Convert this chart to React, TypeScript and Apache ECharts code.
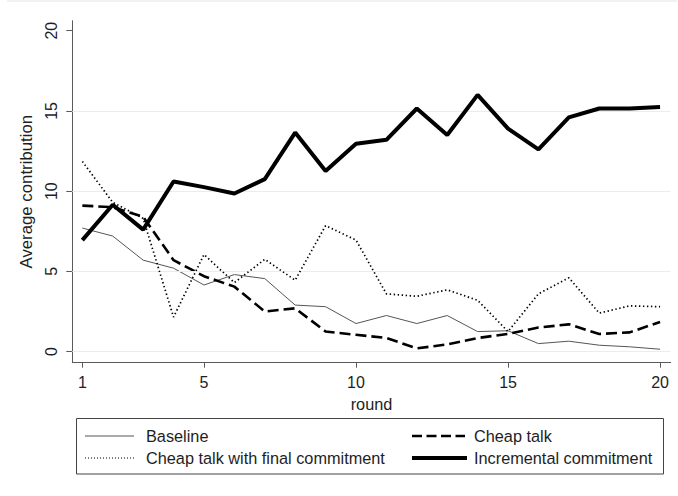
import React, { useEffect, useRef } from "react";
import * as echarts from "echarts";

const rounds = [1, 2, 3, 4, 5, 6, 7, 8, 9, 10, 11, 12, 13, 14, 15, 16, 17, 18, 19, 20];
const baseline = [7.7, 7.2, 5.7, 5.2, 4.15, 4.8, 4.55, 2.9, 2.8, 1.75, 2.25, 1.75, 2.25, 1.25, 1.3, 0.5, 0.65, 0.4, 0.3, 0.15];
const cheapTalk = [9.1, 9.0, 8.4, 5.7, 4.7, 4.05, 2.5, 2.7, 1.25, 1.05, 0.85, 0.2, 0.45, 0.85, 1.1, 1.5, 1.7, 1.1, 1.2, 1.85];
const cheapTalkFinal = [11.85, 9.3, 8.3, 2.15, 6.05, 4.3, 5.75, 4.45, 7.85, 6.95, 3.6, 3.45, 3.85, 3.2, 1.25, 3.6, 4.6, 2.4, 2.85, 2.8];
const incremental = [6.95, 9.15, 7.6, 10.6, 10.25, 9.85, 10.75, 13.65, 11.25, 12.95, 13.2, 15.15, 13.5, 16.0, 13.9, 12.6, 14.6, 15.15, 15.15, 15.25];

const seriesNames = ["Baseline", "Cheap talk", "Cheap talk with final commitment", "Incremental commitment"];
const xTicks = [1, 5, 10, 15, 20];
const yTicks = [0, 5, 10, 15, 20];
const gridValues = [0, 5, 10, 15];

const FONT = "'Liberation Sans', Arial, sans-serif";
const TEXT = "#1e1e1e";

export default function App() {
  const ref = useRef<HTMLDivElement>(null);
  useEffect(() => {
    if (!ref.current) return;
    const chart = echarts.init(ref.current, undefined, { renderer: "svg" });
    const pairs = (vals: number[]) => rounds.map((r, i) => [r, vals[i]]);
    const styles = [
      { color: "#555555", width: 1, type: "solid" as any },
      { color: "#000000", width: 2.6, type: [11, 5] as any },
      { color: "#000000", width: 1.7, type: [1.4, 2.6] as any },
      { color: "#000000", width: 4, type: "solid" as any },
    ];
    const dataSets = [baseline, cheapTalk, cheapTalkFinal, incremental];

    const legendPos = [
      { x1: 85, x2: 134, tx: 146, y: 436 },
      { x1: 412, x2: 465, tx: 474, y: 436 },
      { x1: 85, x2: 134, tx: 146, y: 458 },
      { x1: 412, x2: 467, tx: 474, y: 458 },
    ];
    const legendDash: any[] = [null, [10, 4.5], [1, 2], null];
    const legendWidth = [1, 2.4, 1, 4];

    const legendEls: any[] = [
      {
        type: "rect",
        shape: { x: 76.5, y: 418.5, width: 587, height: 55.5 },
        style: { fill: "#ffffff", stroke: "#444444", lineWidth: 1 },
      },
    ];
    seriesNames.forEach((name, i) => {
      const p = legendPos[i];
      legendEls.push({
        type: "line",
        shape: { x1: p.x1, y1: p.y, x2: p.x2, y2: p.y },
        style: {
          stroke: styles[i].color,
          lineWidth: legendWidth[i],
          lineDash: legendDash[i] || undefined,
        },
      });
      legendEls.push({
        type: "text",
        x: p.tx,
        y: p.y,
        style: {
          text: name,
          fill: TEXT,
          font: `16.3px ${FONT}`,
          verticalAlign: "middle",
          align: "left",
        },
      });
    });

    chart.setOption({
      animation: false,
      backgroundColor: "#ffffff",
      textStyle: { fontFamily: FONT },
      grid: { left: 72.3, right: 7.3, top: 20.7, bottom: 133.3, containLabel: false },
      xAxis: {
        type: "value",
        min: 0.67,
        max: 20.35,
        name: "round",
        nameLocation: "middle",
        nameGap: 28,
        nameTextStyle: { fontSize: 16.3, color: TEXT, fontFamily: FONT },
        axisLine: { show: true, onZero: false, lineStyle: { color: "#5a5a5a", width: 1 } },
        axisTick: { show: true, length: 5, customValues: xTicks, lineStyle: { color: "#5a5a5a" } },
        axisLabel: { customValues: xTicks, fontSize: 16, color: TEXT, margin: 12, fontFamily: FONT },
        splitLine: { show: false },
      },
      yAxis: {
        type: "value",
        min: -0.69,
        max: 20.62,
        name: "Average contribution",
        nameLocation: "middle",
        nameGap: 37,
        nameRotate: 90,
        nameTextStyle: { fontSize: 16.8, color: TEXT, fontFamily: FONT },
        axisLine: { show: true, onZero: false, lineStyle: { color: "#5a5a5a", width: 1 } },
        axisTick: { show: true, length: 6, customValues: yTicks, lineStyle: { color: "#5a5a5a" } },
        axisLabel: { customValues: yTicks, fontSize: 16, color: TEXT, margin: 13, rotate: 90, fontFamily: FONT },
        splitLine: { show: false },
      },
      series: [
        {
          type: "line",
          name: "_grid",
          data: [],
          silent: true,
          markLine: {
            silent: true,
            symbol: ["none", "none"],
            label: { show: false },
            lineStyle: { color: "#e6eef0", width: 1, type: "solid" },
            data: gridValues.map((v) => ({ yAxis: v })),
          },
        },
        ...seriesNames.map((name, i) => ({
          type: "line",
          name,
          data: pairs(dataSets[i]),
          showSymbol: false,
          symbol: "none",
          lineStyle: styles[i],
          z: 3 + i,
        })),
      ],
      graphic: [
        {
          type: "line",
          shape: { x1: 7, y1: 1, x2: 677, y2: 1 },
          style: { stroke: "#e2e2e2", lineWidth: 1 },
        },
        ...legendEls,
      ],
    });
    return () => chart.dispose();
  }, []);
  return (
    <div
      ref={ref}
      style={{ position: "fixed", left: 0, top: 0, width: 678, height: 496, background: "#fff" }}
    />
  );
}
